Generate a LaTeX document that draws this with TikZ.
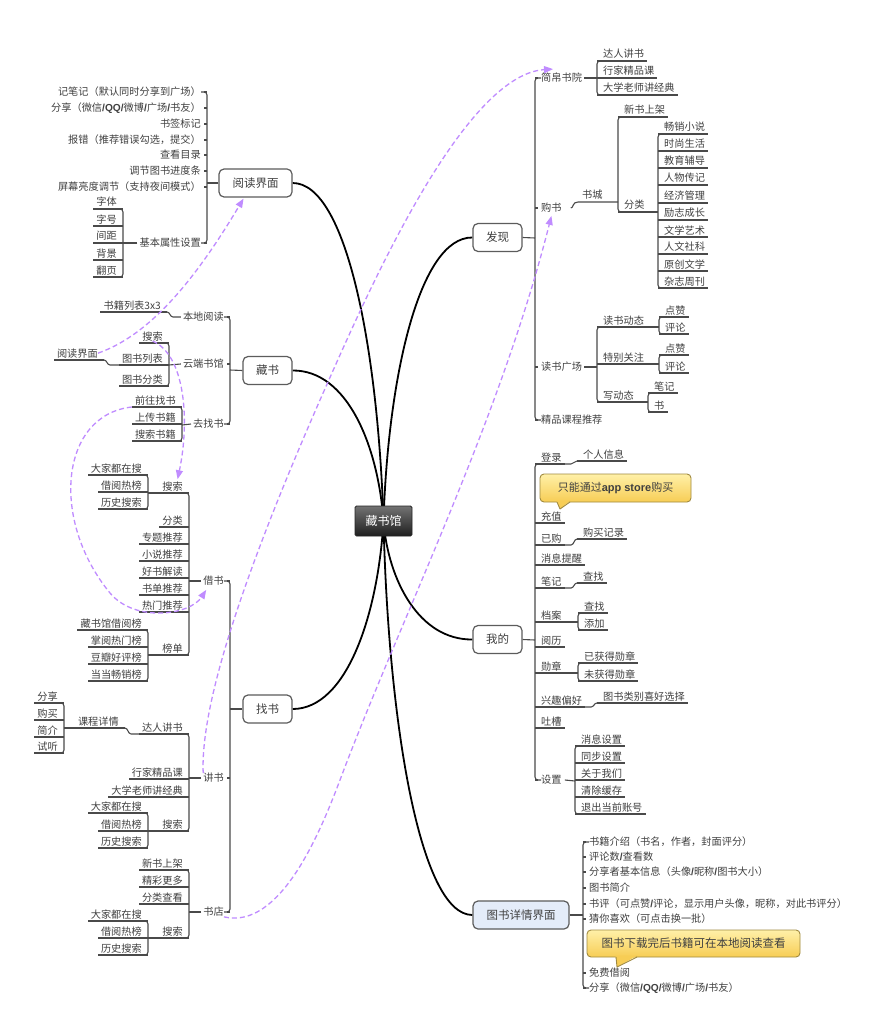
\documentclass[tikz,border=0pt]{standalone}
\usepackage{fontspec}
\setmainfont{Noto Sans CJK SC}
\newfontfamily\lb{Liberation Sans}
\usetikzlibrary{arrows.meta,backgrounds}
\definecolor{txtc}{HTML}{404040}
\definecolor{linec}{HTML}{4A4A4A}
\definecolor{boxc}{HTML}{5C5C5C}
\definecolor{linkc}{HTML}{C08CFF}
\definecolor{calltop}{HTML}{FFF0A8}
\definecolor{callbot}{HTML}{F7CD55}
\definecolor{calldraw}{HTML}{A08A40}
\definecolor{detfill}{HTML}{E4ECF9}
\newcommand\bs[1]{{\lb\bfseries #1}}
\newcommand\rleaf[4]{\node[txt,anchor=base west] (#1) at (#2+6,#3-3) {#4};
  \draw[uline] (#2,#3) -- ([shift={(3pt,-3pt)}]#1.base east);}
\newcommand\lleaf[4]{\node[txt,anchor=base east] (#1) at (#2-6,#3-3) {#4};
  \draw[uline] (#2,#3) -- ([shift={(-3pt,-3pt)}]#1.base west);}
\newcommand\rlab[4]{\node[txt,anchor=west] (#1) at (#2+6,#3) {#4};
  \draw[uline] (#2,#3) -- (#2+3,#3);}
\newcommand\llab[4]{\node[txt,anchor=east] (#1) at (#2-6,#3) {#4};
  \draw[uline] (#2,#3) -- (#2-3,#3);}
\newcommand\rbrk[3]{\draw[brk] (#1+6,#2) -- (#1,#2) -- (#1,#3) -- (#1+6,#3);}
\newcommand\lbrk[3]{\draw[brk] (#1-6,#2) -- (#1,#2) -- (#1,#3) -- (#1-6,#3);}
\newcommand\stp[4]{\draw[uline] ([shift={(3pt,-3pt)}]#1.base east) -- (#3-6,#2) .. controls (#3-3,#2) and (#3-3,#4) .. (#3,#4);}
\tikzset{
  txt/.style={font=\fontsize{10.2}{12}\selectfont, text=txtc, inner sep=0pt},
  uline/.style={draw=linec, line width=1.1pt},
  brk/.style={draw=linec, line width=1.1pt, rounded corners=3pt},
  mainbox/.style={draw=boxc, line width=1.2pt, fill=white, rounded corners=5pt, minimum width=49pt, minimum height=28pt, inner sep=2pt, font=\fontsize{11.5}{13}\selectfont, text=txtc},
  rootbox/.style={draw=black!85, line width=0.8pt, top color=black!55, bottom color=black!88, rounded corners=1.5pt, minimum width=57pt, minimum height=30pt, font=\fontsize{12}{14}\selectfont, text=white},
  trunk/.style={draw=black, line width=1.8pt},
  callbox/.style={draw=calldraw, line width=0.9pt, top color=calltop, bottom color=callbot, rounded corners=4pt, font=\fontsize{11}{13}\selectfont, text=txtc, inner sep=2pt},
  link/.style={draw=linkc, line width=1.3pt, dash pattern=on 5pt off 3pt, -{Triangle[length=9pt,width=7pt]}},
}
\begin{document}
\begin{tikzpicture}[x=1pt,y=-1pt]
\useasboundingbox (0,0) rectangle (890,1024);
% main nodes
\node[rootbox] (root) at (383.5,521) {藏书馆};
\node[mainbox, minimum width=73pt] (yd) at (255.5,183) {阅读界面};
\node[mainbox] (cs) at (267.5,370.5) {藏书};
\node[mainbox] (zs) at (267.5,709) {找书};
\node[mainbox] (fx) at (497.5,237.5) {发现};
\node[mainbox] (wd) at (497.5,639.5) {我的};
\node[mainbox, fill=detfill, minimum width=96pt] (tsxq) at (521,915) {图书详情界面};
\begin{scope}[on background layer]
\fill[white] (0,0) rectangle (890,1024);
\draw[trunk] (root.center) .. controls (378,351) and (347,183) .. (yd.east);
\draw[trunk] (root.center) .. controls (378,445) and (347,370) .. (cs.east);
\draw[trunk] (root.center) .. controls (378,614) and (347,709) .. (zs.east);
\draw[trunk] (root.center) .. controls (388,378) and (419,237) .. (fx.west);
\draw[trunk] (root.center) .. controls (388,580) and (419,640) .. (wd.west);
\draw[trunk] (root.center) .. controls (388,717) and (419,915) .. (tsxq.west);
\end{scope}

% ===== 阅读界面 =====
\draw[uline] (yd.west) -- (207,183);
\lbrk{207}{92}{243}
\llab{r1}{207}{92}{记笔记（默认同时分享到广场）}
\llab{r2}{207}{108}{分享（微信\bs{/QQ/}微博\bs{/}广场\bs{/}书友）}
\llab{r3}{207}{124}{书签标记}
\llab{r4}{207}{140}{报错（推荐错误勾选，提交）}
\llab{r5}{207}{155}{查看目录}
\llab{r6}{207}{171}{调节图书进度条}
\llab{r7}{207}{187}{屏幕亮度调节（支持夜间模式）}
\llab{r8}{207}{243}{基本属性设置}
\draw[uline] ([xshift=-2pt]r8.west) -- (123,243);
\lbrk{123}{209}{277}
\lleaf{zt}{123}{209}{字体}
\lleaf{zh}{123}{226}{字号}
\lleaf{jj}{123}{243}{间距}
\lleaf{bjg}{123}{260}{背景}
\lleaf{fy}{123}{277}{翻页}

% ===== 藏书 =====
\draw[uline] (cs.west) -- (230,370);
\lbrk{230}{317}{424}
\llab{bdyd}{230}{317}{本地阅读}
\llab{ydsg}{230}{364}{云端书馆}
\llab{qzs}{230}{424}{去找书}
\draw[uline] ([xshift=-2pt]bdyd.west) -- (173,317) .. controls (170,317) and (170,312) .. (167,312);
\lleaf{sjlb}{167}{312}{书籍列表3x3}
\draw[uline] ([xshift=-2pt]ydsg.west) -- (169,365);
\lbrk{169}{343}{386}
\lleaf{yss}{169}{343}{搜索}
\lleaf{tslb}{169}{365}{图书列表}
\lleaf{tsfl}{169}{386}{图书分类}
\draw[uline] ([shift={(-3pt,-3pt)}]tslb.base west) -- (110,365) .. controls (107,365) and (107,360) .. (104,360);
\lleaf{ydjm}{104}{360}{阅读界面}
\draw[uline] ([xshift=-2pt]qzs.west) -- (182,425);
\lbrk{182}{407}{441}
\lleaf{qwzs}{182}{407}{前往找书}
\lleaf{scsj}{182}{424}{上传书籍}
\lleaf{sssj}{182}{441}{搜索书籍}

% ===== 找书 =====
\draw[uline] (zs.west) -- (230,709);
\lbrk{230}{581}{912}
\llab{jie}{230}{581}{借书}
\llab{jiang}{230}{778}{讲书}
\llab{sd}{230}{912}{书店}
% 借书
\draw[uline] ([xshift=-2pt]jie.west) -- (189,581);
\lbrk{189}{493}{655}
\lleaf{jss}{189}{493}{搜索}
\draw[uline] (189,493) -- (148,493);
\lbrk{148}{475}{509}
\lleaf{a1}{148}{475}{大家都在搜}
\lleaf{a2}{148}{492}{借阅热榜}
\lleaf{a3}{148}{509}{历史搜索}
\lleaf{b1}{189}{527}{分类}
\lleaf{b2}{189}{544}{专题推荐}
\lleaf{b3}{189}{561}{小说推荐}
\lleaf{b4}{189}{578}{好书解读}
\lleaf{b5}{189}{595}{书单推荐}
\lleaf{b6}{189}{612}{热门推荐}
\lleaf{bd}{189}{655}{榜单}
\draw[uline] (189,655) -- (148,655);
\lbrk{148}{630}{681}
\lleaf{c1}{148}{630}{藏书馆借阅榜}
\lleaf{c2}{148}{647}{掌阅热门榜}
\lleaf{c3}{148}{664}{豆瓣好评榜}
\lleaf{c4}{148}{681}{当当畅销榜}
% 讲书
\draw[uline] ([xshift=-2pt]jiang.west) -- (189,778);
\lbrk{189}{734}{831}
\lleaf{drjs}{189}{734}{达人讲书}
\draw[uline] ([shift={(-3pt,-3pt)}]drjs.base west) -- (131,734) .. controls (128,734) and (128,728) .. (125,728);
\lleaf{kcxq}{125}{728}{课程详情}
\draw[uline] (125,728) -- (64,728);
\lbrk{64}{703}{753}
\lleaf{e1}{64}{703}{分享}
\lleaf{e2}{64}{720}{购买}
\lleaf{e3}{64}{737}{简介}
\lleaf{e4}{64}{753}{试听}
\lleaf{hjjp}{189}{779}{行家精品课}
\lleaf{dxls}{189}{797}{大学老师讲经典}
\lleaf{jss2}{189}{831}{搜索}
\draw[uline] (189,831) -- (148,831);
\lbrk{148}{813}{848}
\lleaf{f1}{148}{813}{大家都在搜}
\lleaf{f2}{148}{831}{借阅热榜}
\lleaf{f3}{148}{848}{历史搜索}
% 书店
\draw[uline] ([xshift=-2pt]sd.west) -- (189,912);
\lbrk{189}{870}{938}
\lleaf{g1}{189}{870}{新书上架}
\lleaf{g2}{189}{887}{精彩更多}
\lleaf{g3}{189}{904}{分类查看}
\lleaf{gss}{189}{938}{搜索}
\draw[uline] (189,938) -- (148,938);
\lbrk{148}{921}{955}
\lleaf{h1}{148}{921}{大家都在搜}
\lleaf{h2}{148}{938}{借阅热榜}
\lleaf{h3}{148}{955}{历史搜索}

% ===== 发现 =====
\draw[uline] (fx.east) -- (535,238);
\rbrk{535}{78}{420}
\rlab{jbsy}{535}{78}{简帛书院}
\rlab{gs}{535}{208}{购书}
\rlab{dsgc}{535}{367}{读书广场}
\rlab{jpkc}{535}{420}{精品课程推荐}
\draw[uline] ([xshift=2pt]jbsy.east) -- (597,78);
\rbrk{597}{61}{95}
\rleaf{d1}{597}{61}{达人讲书}
\rleaf{d2}{597}{78}{行家精品课}
\rleaf{d3}{597}{95}{大学老师讲经典}
\draw[uline] ([xshift=9pt]gs.east) .. controls +(3pt,0) and (572,202) .. (578,202) -- (618,202);
\node[txt,anchor=base west] (sc) at (582,199) {书城};
\rbrk{618}{117}{212}
\rleaf{xssj}{618}{117}{新书上架}
\rleaf{fl}{618}{212}{分类}
\draw[uline] (618,212) -- (658,212);
\rbrk{658}{134}{288}
\rleaf{k1}{658}{134}{畅销小说}
\rleaf{k2}{658}{151}{时尚生活}
\rleaf{k3}{658}{168}{教育辅导}
\rleaf{k4}{658}{185}{人物传记}
\rleaf{k5}{658}{203}{经济管理}
\rleaf{k6}{658}{220}{励志成长}
\rleaf{k7}{658}{237}{文学艺术}
\rleaf{k8}{658}{254}{人文社科}
\rleaf{k9}{658}{271}{原创文学}
\rleaf{k10}{658}{288}{杂志周刊}
\draw[uline] ([xshift=2pt]dsgc.east) -- (597,367);
\rbrk{597}{327}{402}
\rleaf{dsdt}{597}{327}{读书动态}
\draw[uline] (597,327) -- (659,327);
\rleaf{tbgz}{597}{364}{特别关注}
\draw[uline] (597,364) -- (659,364);
\rleaf{xdt}{597}{402}{写动态}
\draw[uline] (597,402) -- (648,402);
\rbrk{659}{317}{334}
\rleaf{dz1}{659}{317}{点赞}
\rleaf{pl1}{659}{334}{评论}
\rbrk{659}{355}{373}
\rleaf{dz2}{659}{355}{点赞}
\rleaf{pl2}{659}{373}{评论}
\rbrk{648}{393}{412}
\rleaf{bj}{648}{393}{笔记}
\rleaf{shu}{648}{412}{书}

% ===== 我的 =====
\draw[uline] (wd.east) -- (535,640);
\rbrk{535}{464}{780}
\rleaf{dl}{535}{464}{登录}
\stp{dl}{464}{577}{461}
\rleaf{grxx}{577}{461}{个人信息}
\rleaf{cz}{535}{523}{充值}
\rleaf{yg}{535}{545}{已购}
\stp{yg}{545}{577}{539}
\rleaf{gmjl}{577}{539}{购买记录}
\rleaf{xxtx}{535}{565}{消息提醒}
\rleaf{bj2}{535}{588}{笔记}
\stp{bj2}{588}{577}{583}
\rleaf{cz2}{577}{583}{查找}
\rleaf{da}{535}{622}{档案}
\draw[uline] (535,622) -- (578,622);
\rbrk{578}{613}{630}
\rleaf{cz3}{578}{613}{查找}
\rleaf{tj}{578}{630}{添加}
\rleaf{yl}{535}{647}{阅历}
\rleaf{xz}{535}{673}{勋章}
\draw[uline] (535,673) -- (578,673);
\rbrk{578}{663}{681}
\rleaf{yhd}{578}{663}{已获得勋章}
\rleaf{whd}{578}{681}{未获得勋章}
\rleaf{xqph}{535}{707}{兴趣偏好}
\stp{xqph}{707}{597}{703}
\rleaf{tslbxh}{597}{703}{图书类别喜好选择}
\rleaf{tc}{535}{728}{吐槽}
\rlab{sz}{535}{780}{设置}
\draw[uline] ([xshift=3pt]sz.east) -- (575,781);
\rbrk{575}{746}{814}
\rleaf{s1}{575}{746}{消息设置}
\rleaf{s2}{575}{763}{同步设置}
\rleaf{s3}{575}{780}{关于我们}
\rleaf{s4}{575}{797}{清除缓存}
\rleaf{s5}{575}{814}{退出当前账号}
% callout 1
\node[callbox, minimum width=151pt, minimum height=28pt] (co1) at (615.5,488) {只能通过\bs{app store}购买};
\fill[callbot] (556.5,500.5) -- (560,509) -- (570.5,500.5) -- cycle;
\draw[calldraw, line width=0.9pt, line join=round] (557,502) -- (560,509) -- (570,502);

% ===== 图书详情界面 =====
\draw[uline] (tsxq.east) -- (583,915);
\rbrk{583}{842}{988}
\rlab{x1}{583}{842}{书籍介绍（书名，作者，封面评分）}
\rlab{x2}{583}{857}{评论数\bs{/}查看数}
\rlab{x3}{583}{872}{分享者基本信息（头像\bs{/}昵称\bs{/}图书大小）}
\rlab{x4}{583}{888}{图书简介}
\rlab{x5}{583}{904}{书评（可点赞\bs{/}评论，显示用户头像，昵称，对此书评分）}
\rlab{x6}{583}{919}{猜你喜欢（可点击换一批）}
\rlab{x7}{583}{973}{免费借阅}
\rlab{x8}{583}{988}{分享（微信\bs{/QQ/}微博\bs{/}广场\bs{/}书友）}
\node[callbox, minimum width=213pt, minimum height=27pt, font=\fontsize{11.5}{13}\selectfont] (co2) at (693.5,943.5) {图书下载完后书籍可在本地阅读查看};
\fill[callbot] (615.5,955.5) -- (617,967) -- (637.5,955.5) -- cycle;
\draw[calldraw, line width=0.9pt, line join=round] (616,957) -- (617,967) -- (637,957);

% ===== dashed links =====
\draw[link] (ydjm.east) .. controls (150,335) and (195,280) .. ([xshift=-12pt,yshift=-1pt]yd.south);
\draw[link] ([shift={(-3pt,-3pt)}]qwzs.base west) .. controls (60,415) and (50,520) .. (110,593) .. controls (135,623) and (190,615) .. ([shift={(3pt,-4pt)}]jie.south west);
\draw[link] (yss.south) .. controls (185,355) and (190,420) .. ([shift={(5pt,2pt)}]jss.north);
\draw[link] (jiang.north west) .. controls (200,700) and (250,560) .. (320,400) .. controls (360,310) and (460,75) .. ([shift={(12pt,4pt)}]jbsy.north west);
\draw[link] (sd.south east) .. controls (280,930) and (320,833) .. (340,780) .. controls (400,620) and (500,420) .. ([yshift=-3pt]gs.south);
\end{tikzpicture}
\end{document}
